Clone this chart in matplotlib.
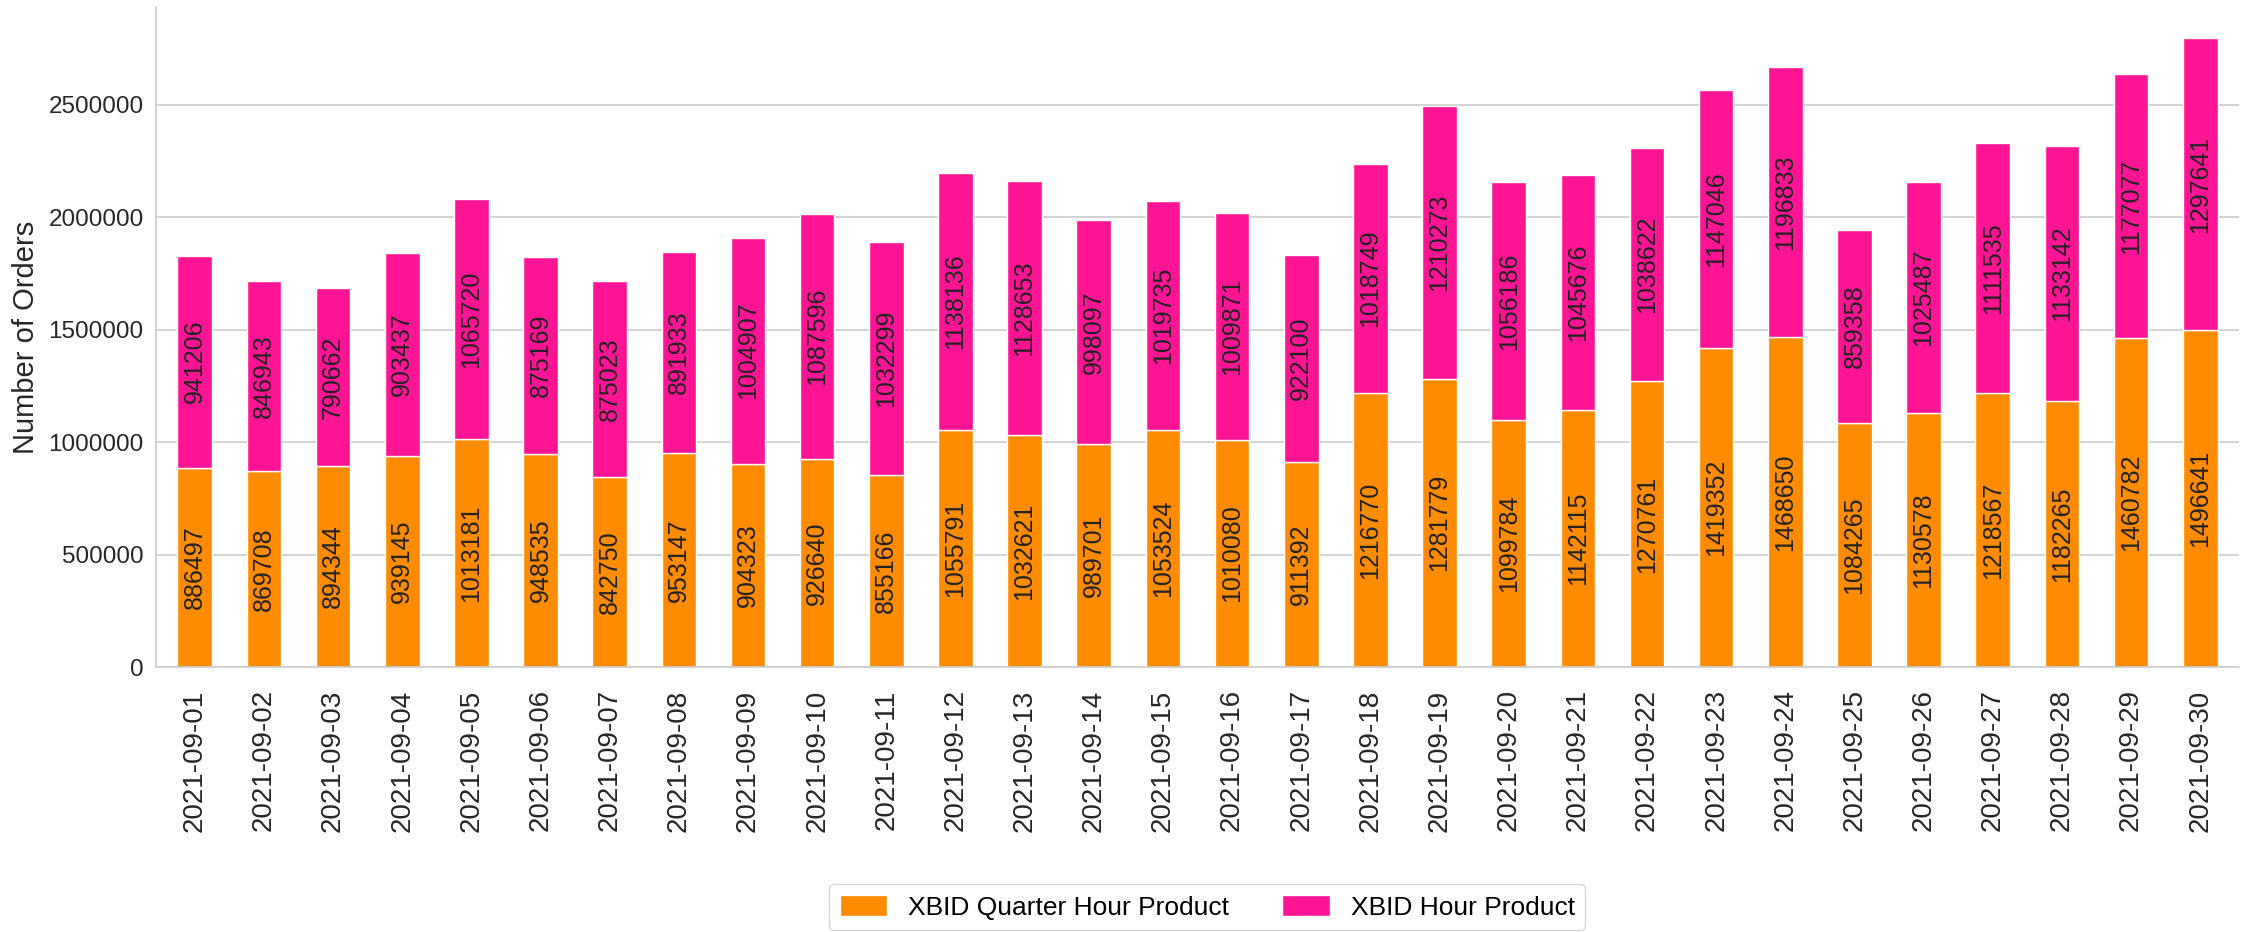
import matplotlib
matplotlib.use('Agg')
import matplotlib.pyplot as plt
import numpy as np

# ── Data ──────────────────────────────────────────────────
DATES = [f'2021-09-{d:02d}' for d in range(1, 31)]

QUARTER_HOUR = [886497, 869708, 894344, 939145, 1013181, 948535, 842750,
                953147, 904323, 926640, 855166, 1055791, 1032621, 989701,
                1053524, 1010080, 911392, 1216770, 1281779, 1099784,
                1142115, 1270761, 1419352, 1468650, 1084265, 1130578,
                1218567, 1182265, 1460782, 1496641]

HOUR = [941206, 846943, 790662, 903437, 1065720, 875169, 875023,
        891933, 1004907, 1087596, 1032299, 1138136, 1128653, 998097,
        1019735, 1009871, 922100, 1018749, 1210273, 1056186,
        1045676, 1038622, 1147046, 1196833, 859358, 1025487,
        1111535, 1133142, 1177077, 1297641]

SERIES = ['XBID Quarter Hour Product', 'XBID Hour Product']
COLORS = ['#FF8C00', '#FF1493']
YTICKS = [0, 500000, 1000000, 1500000, 2000000, 2500000]

plt.rcParams['font.family'] = ['Liberation Sans', 'DejaVu Sans']

# ── Plot ──────────────────────────────────────────────────
fig = plt.figure(figsize=(22.65, 9.32), dpi=100)
ax = fig.add_axes([0.0689, 0.2843, 0.9196, 0.7082])

x = np.arange(len(DATES))
q = np.array(QUARTER_HOUR)
h = np.array(HOUR)

b1 = ax.bar(x, q, width=0.5, color=COLORS[0], edgecolor='white',
            linewidth=1, label=SERIES[0], zorder=2)
b2 = ax.bar(x, h, bottom=q, width=0.5, color=COLORS[1], edgecolor='white',
            linewidth=1, label=SERIES[1], zorder=2)

for c in (b1, b2):
    ax.bar_label(c, labels=[str(v) for v in c.datavalues],
                 label_type='center', rotation=90, fontsize=18,
                 color='#222222')

ax.set_xlim(-0.56, len(DATES) - 0.44)
ax.set_ylim(0, (q + h).max() * 1.05)
ax.set_xticks(x)
ax.set_xticklabels(DATES, rotation=90)
ax.set_yticks(YTICKS)
ax.set_yticklabels([str(t) for t in YTICKS])
ax.tick_params(axis='x', length=0, pad=16, labelsize=20, colors='#262626')
ax.tick_params(axis='y', length=0, pad=9, labelsize=17.5, colors='#262626')
ax.set_ylabel('Number of Orders', fontsize=21, color='#262626', labelpad=6)

ax.grid(axis='y', color='#cccccc', linewidth=1.2, zorder=0)
ax.set_axisbelow(True)
for s in ('top', 'right'):
    ax.spines[s].set_visible(False)
for s in ('left', 'bottom'):
    ax.spines[s].set_color('#cccccc')
    ax.spines[s].set_linewidth(1.2)

fig.legend(handles=[b1, b2], loc='upper center',
           bbox_to_anchor=(0.533, 1 - 884 / 932),
           bbox_transform=fig.transFigure, borderaxespad=0, ncol=2,
           fontsize=19, frameon=True, edgecolor='#cccccc',
           handlelength=1.8, handleheight=0.9, columnspacing=2.0)

fig.savefig('out.png', dpi=100)
